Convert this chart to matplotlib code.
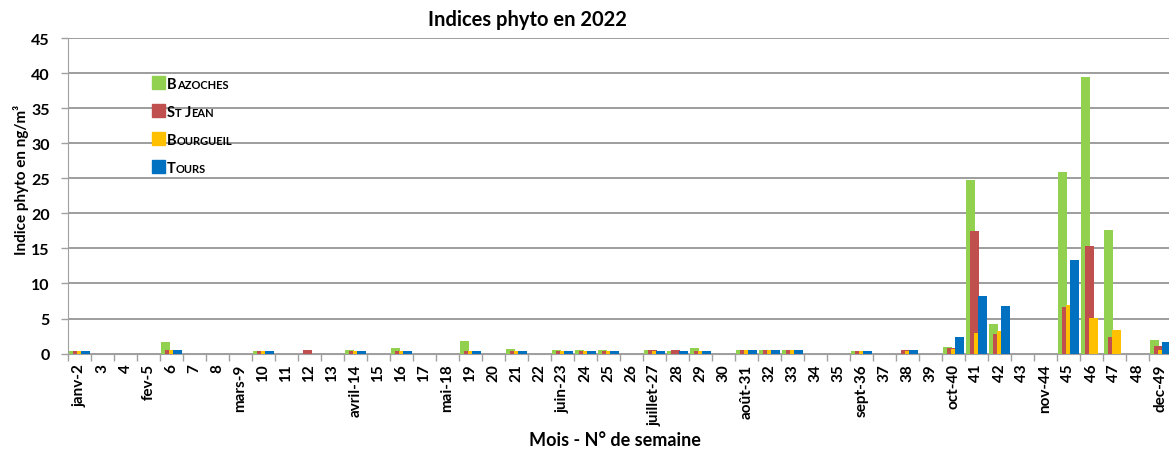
import matplotlib
matplotlib.use("Agg")
import matplotlib.pyplot as plt
import numpy as np
from matplotlib.patches import Rectangle

plt.rcParams['font.family'] = ['Lato', 'DejaVu Sans']
plt.rcParams['font.weight'] = 'bold'

# Semaines 2 a 49
semaines = ['janv-2', '3', '4', 'fev-5', '6', '7', '8', 'mars-9', '10', '11', '12', '13',
            'avril-14', '15', '16', '17', 'mai-18', '19', '20', '21', '22', 'juin-23', '24',
            '25', '26', 'juillet-27', '28', '29', '30', 'août-31', '32', '33', '34', '35',
            'sept-36', '37', '38', '39', 'oct-40', '41', '42', '43', 'nov-44', '45', '46',
            '47', '48', 'dec-49']

bazoches = [0.4, 0, 0, 0, 1.7, 0, 0, 0, 0.4, 0, 0, 0, 0.55, 0, 0.75, 0, 0, 1.85, 0, 0.6,
            0, 0.55, 0.45, 0.55, 0, 0.45, 0.4, 0.85, 0, 0.55, 0.45, 0.5, 0, 0, 0.4, 0, 0, 0,
            0.9, 24.8, 4.25, 0, 0, 25.9, 39.5, 17.6, 0, 2.0]
st_jean = [0.4, 0, 0, 0, 0.5, 0, 0, 0, 0.4, 0, 0.45, 0, 0.4, 0, 0.4, 0, 0, 0.4, 0, 0.4,
           0, 0.4, 0.4, 0.4, 0, 0.45, 0.45, 0.4, 0, 0.45, 0.45, 0.45, 0, 0, 0.4, 0, 0.45, 0,
           0.8, 17.5, 2.8, 0, 0, 6.6, 15.3, 2.3, 0, 1.1]
bourgueil = [0.4, 0, 0, 0, 0.5, 0, 0, 0, 0.4, 0, 0, 0, 0.4, 0, 0.4, 0, 0, 0.4, 0, 0.4,
             0, 0.4, 0.4, 0.4, 0, 0.4, 0, 0.4, 0, 0.45, 0.45, 0.45, 0, 0, 0.4, 0, 0.4, 0,
             0.7, 3.0, 3.2, 0, 0, 7.0, 5.1, 3.4, 0, 0.5]
tours = [0.4, 0, 0, 0, 0.45, 0, 0, 0, 0.4, 0, 0, 0, 0.4, 0, 0.4, 0, 0, 0.4, 0, 0.4,
         0, 0.4, 0.4, 0.4, 0, 0.4, 0.4, 0.4, 0, 0.45, 0.45, 0.45, 0, 0, 0.4, 0, 0.45, 0,
         2.3, 8.2, 6.85, 0, 0, 13.3, 0, 0, 0, 1.6]

series = [('Bazoches', bazoches, '#92D050'),
          ('St Jean', st_jean, '#C0504D'),
          ('Bourgueil', bourgueil, '#FFC000'),
          ('Tours', tours, '#0070C0')]

W, H = 1169, 452
fig = plt.figure(figsize=(W / 100, H / 100), dpi=100)
ax = fig.add_axes([68 / W, (H - 354.6) / H, 1104 / W, 315.6 / H])

x = np.arange(len(semaines))
largeur = 0.38
pas = 0.18
for i, (nom, vals, couleur) in enumerate(series):
    ax.bar(x + (i - 1.5) * pas, vals, largeur, color=couleur, zorder=3 + i)

ax.set_xlim(-0.5, len(semaines) - 0.5)
ax.set_ylim(0, 45)
ax.set_yticks(range(0, 46, 5))
ax.set_xticks(x)
ax.set_xticklabels(semaines, rotation=90, fontsize=11, fontweight='bold')
ax.set_xticks(np.arange(-0.5, len(semaines)), minor=True)
ax.tick_params(axis='x', which='major', length=0, pad=7)
ax.tick_params(axis='x', which='minor', length=5, color='#a0a0a0', width=1)
ax.tick_params(axis='y', length=5, color='#a0a0a0', width=1, labelsize=11.5, pad=8)
for lab in ax.get_yticklabels():
    lab.set_fontweight('bold')

ax.grid(axis='y', color='#8c8c8c', linewidth=1.2, zorder=0)
ax.set_axisbelow(True)
for s in ['top', 'right']:
    ax.spines[s].set_visible(False)
ax.spines['left'].set_color('#a0a0a0')
ax.spines['bottom'].set_color('#a0a0a0')

fig.text(527 / W, 1 - 20 / H, 'Indices phyto en 2022', ha='center', va='center',
         fontsize=14.5, fontweight='bold')
fig.text(21 / W, 1 - 180 / H, 'Indice phyto en ng/m³', rotation=90, ha='center',
         va='center', fontsize=11, fontweight='bold')
fig.text(615 / W, 1 - 441 / H, 'Mois - N° de semaine', ha='center', va='center',
         fontsize=13, fontweight='bold')

renderer = fig.canvas.get_renderer()


# Legende en petites capitales
def petites_capitales(xp, yp, texte, grand=10.5, petit=8):
    morceaux = []
    for c in texte:
        gros = c.isupper()
        if morceaux and morceaux[-1][1] == gros:
            morceaux[-1][0] += c.upper()
        else:
            morceaux.append([c.upper(), gros])
    for m, gros in morceaux:
        t = fig.text(xp / W, 1 - yp / H, m, fontsize=grand if gros else petit,
                     fontweight='bold', ha='left', va='baseline')
        xp = t.get_window_extent(renderer).x1


for i, (nom, vals, couleur) in enumerate(series):
    yc = 83 + 28 * i
    fig.patches.append(Rectangle((152 / W, 1 - (yc + 6.5) / H), 13 / W, 13 / H,
                                 transform=fig.transFigure, color=couleur, figure=fig))
    petites_capitales(167, yc + 6, nom)

fig.savefig('out.png', dpi=100)
